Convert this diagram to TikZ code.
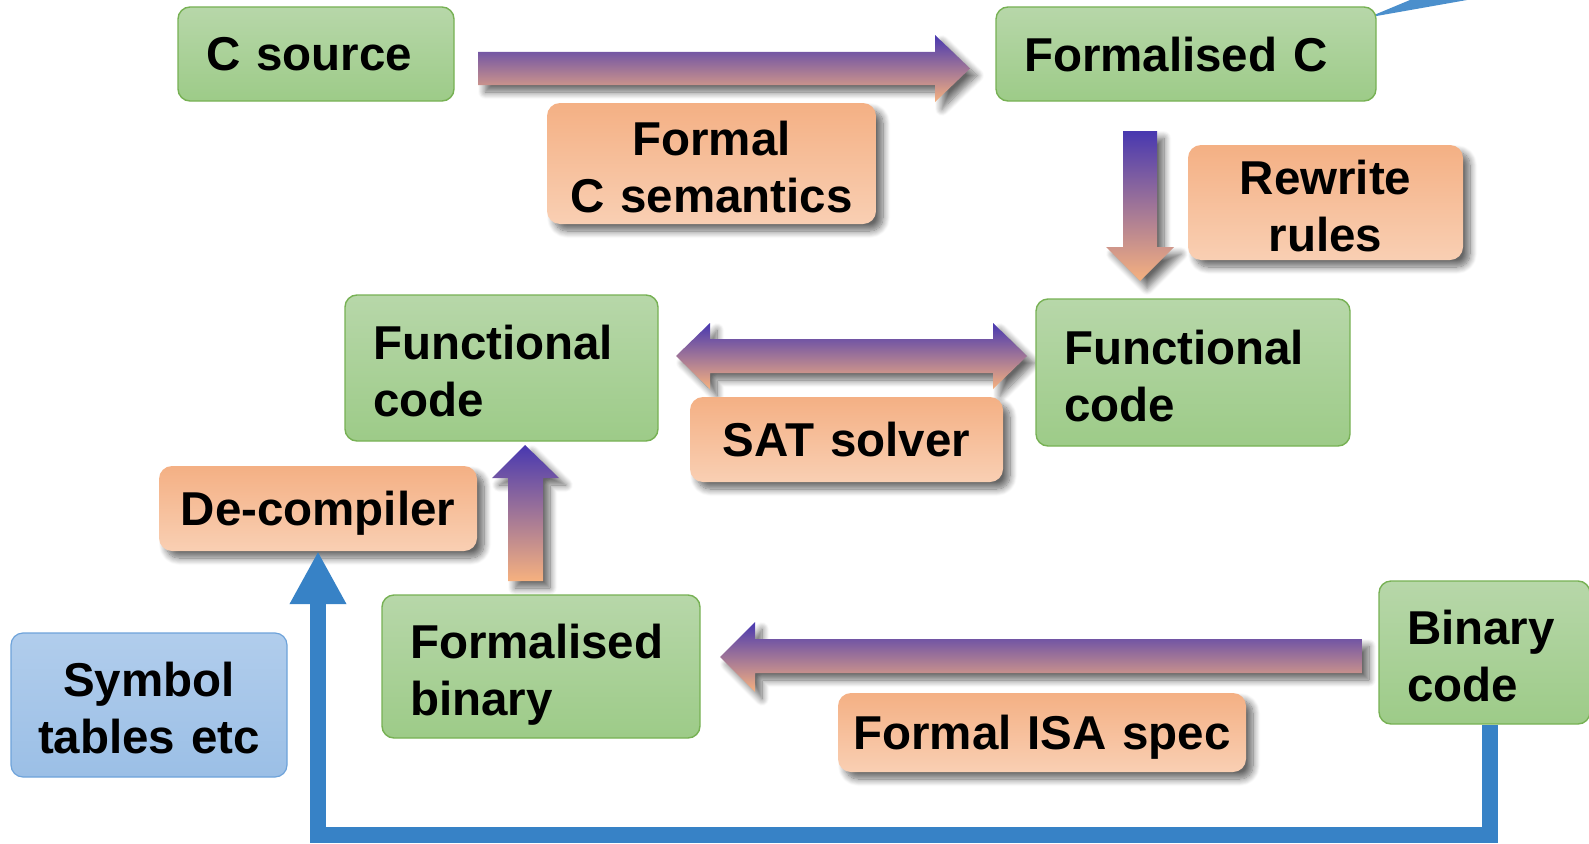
\documentclass[tikz,border=0pt]{standalone}
\usepackage{fontspec}
\setmainfont{Liberation Sans}
\usetikzlibrary{shadows.blur,arrows.meta}

\definecolor{grTop}{HTML}{B7D7A9}
\definecolor{grBot}{HTML}{9DCB88}
\definecolor{grEdge}{HTML}{77B154}
\definecolor{orTop}{HTML}{F4B084}
\definecolor{orBot}{HTML}{F9CFB3}
\definecolor{blTop}{HTML}{B1CDEC}
\definecolor{blBot}{HTML}{9BBFE6}
\definecolor{blEdge}{HTML}{6EA3DA}
\definecolor{arTop}{HTML}{4838B0}
\definecolor{arBot}{HTML}{F6B17F}
\definecolor{link}{HTML}{3782C6}

\newcommand\diagfont{\fontsize{47.5}{57}\selectfont\bfseries}

\begin{document}
\begin{tikzpicture}[x=1pt,y=-1pt,
  softshadow/.style={blur shadow={shadow xshift=7pt, shadow yshift=-7pt,
      shadow blur radius=7pt, shadow blur steps=10, shadow opacity=60}},
  greenbox/.style={draw=grEdge, line width=1.4pt, rounded corners=12pt,
      top color=grTop, bottom color=grBot, align=left, inner xsep=28pt,
      inner ysep=0pt, text depth=0pt, font=\diagfont},
  orangebox/.style={rounded corners=13pt, top color=orTop, bottom color=orBot,
      align=center, inner xsep=0pt, inner ysep=0pt, text depth=0pt,
      font=\diagfont, softshadow},
  bluebox/.style={draw=blEdge, line width=1.2pt, rounded corners=12pt,
      top color=blTop, bottom color=blBot, align=center, inner xsep=0pt,
      inner ysep=0pt, text depth=0pt, font=\diagfont},
  twolines/.style={text height=40pt, text depth=57pt},
  fatarrow/.style={top color=arTop, bottom color=arBot, softshadow},
  bluelink/.style={draw=link, line width=16.5pt, line join=miter,
      -{Triangle[length=53pt,width=53pt]}}
]
\useasboundingbox (0,0) rectangle (1589,843);

% pointer of a callout reaching in from the upper right
\fill[link!90!white] (1368,17.5) -- (1410,0) -- (1467,0) -- cycle;

% fat process arrows
\path[fatarrow] (478,52) -- (935,52) -- (935,35) -- (970,68.5) -- (935,102) -- (935,85) -- (478,85) -- cycle;
\path[fatarrow] (1123,131) -- (1157,131) -- (1157,247) -- (1174,247) -- (1140,281) -- (1106,247) -- (1123,247) -- cycle;
\path[fatarrow] (676,356) -- (710,323) -- (710,339) -- (993,339) -- (993,323) -- (1027,356) -- (993,389) -- (993,373) -- (710,373) -- (710,389) -- cycle;
\path[fatarrow] (525,445) -- (559,478) -- (543,478) -- (543,581) -- (508,581) -- (508,478) -- (492,478) -- cycle;
\path[fatarrow] (720,657) -- (755,622) -- (755,639) -- (1362,639) -- (1362,673) -- (755,673) -- (755,692) -- cycle;

% artefacts
\node[greenbox, text width=220pt, minimum height=94pt] (src)  at (316,54)      {C source};
\node[greenbox, text width=324pt, minimum height=94pt] (fc)   at (1186,54)     {Formalised C};
\node[greenbox, twolines, text width=257pt, minimum height=146pt] (funL) at (501.5,368)  {Functional\\code};
\node[greenbox, twolines, text width=258pt, minimum height=147pt] (funR) at (1193,372.5) {Functional\\code};
\node[greenbox, twolines, text width=262pt, minimum height=143pt] (fbin) at (541,666.5)  {Formalised\\binary};
\node[greenbox, twolines, text width=155pt, minimum height=143pt] (bin)  at (1484.5,652.5) {Binary\\code};

% tools
\node[orangebox, twolines, text width=329pt, minimum height=121pt] (sem) at (711.5,163.5)  {Formal\\C semantics};
\node[orangebox, twolines, text width=275pt, minimum height=115pt] (rw)  at (1325.5,202.5) {Rewrite\\rules};
\node[orangebox, text width=313pt, minimum height=85pt]  (sat) at (846.5,439.5) {SAT solver};
\node[orangebox, text width=318pt, minimum height=85pt]  (dec) at (318,508.5)   {De-compiler};
\node[orangebox, text width=408pt, minimum height=79pt]  (isa) at (1042,732.5)  {Formal ISA spec};

% side input
\node[bluebox, twolines, text width=276pt, minimum height=144pt] (sym) at (149,705) {Symbol\\tables etc};

% binary code feeds the de-compiler
\coordinate (turn) at (1490,835);
\draw[bluelink] (turn |- bin.south) -- (turn) -| (dec.south);
\end{tikzpicture}
\end{document}
